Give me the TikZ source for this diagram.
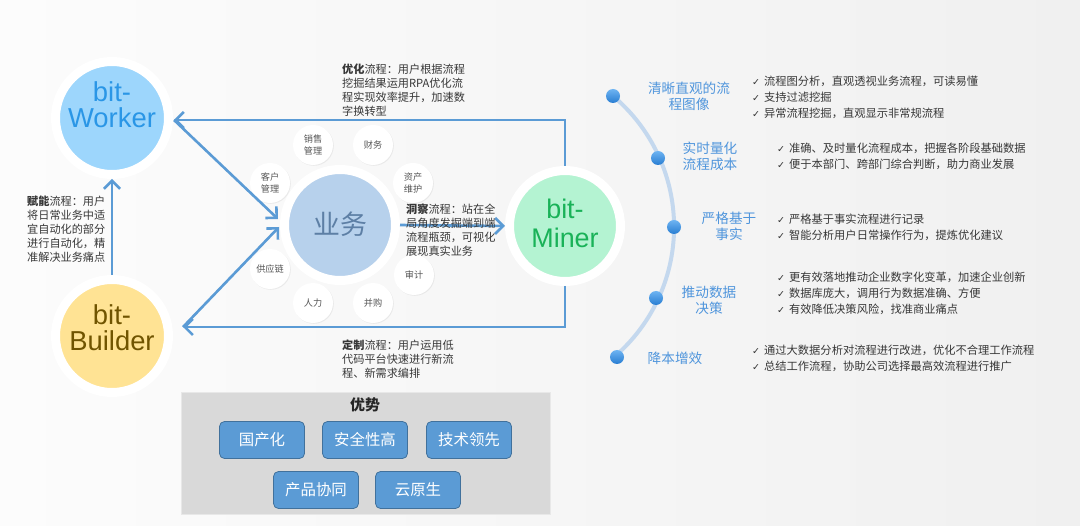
\documentclass[tikz,border=0pt]{standalone}
\usepackage{fontspec}
\setmainfont{Noto Sans CJK SC}
\newfontfamily\latinf{Liberation Sans}
\newfontfamily\dejavu{DejaVu Sans}
\usetikzlibrary{arrows.meta,shadows}
\definecolor{bgA}{RGB}{252,252,252}
\definecolor{bgB}{RGB}{240,240,240}
\definecolor{arrowblue}{RGB}{91,155,213}
\definecolor{workerfill}{RGB}{157,214,252}
\definecolor{workertext}{RGB}{42,150,230}
\definecolor{builderfill}{RGB}{255,227,148}
\definecolor{buildertext}{RGB}{112,84,0}
\definecolor{ywfill}{RGB}{183,209,236}
\definecolor{ywtext}{RGB}{93,127,165}
\definecolor{minerfill}{RGB}{180,243,210}
\definecolor{minertext}{RGB}{25,178,88}
\definecolor{catblue}{RGB}{79,149,220}
\definecolor{txtdark}{RGB}{55,55,55}
\definecolor{arccol}{RGB}{196,216,238}
\definecolor{dotA}{RGB}{110,180,242}
\definecolor{dotB}{RGB}{40,125,210}
\definecolor{advfill}{RGB}{217,217,217}
\definecolor{advline}{RGB}{232,232,232}
\definecolor{btnfill}{RGB}{91,155,213}
\definecolor{btnline}{RGB}{65,113,156}
\begin{document}
\begin{tikzpicture}[x=1bp,y=-1bp,
  bigcirc/.style={circle, draw=white, line width=9bp, inner sep=0pt},
  biglbl/.style={align=center, inner sep=0pt, font=\latinf\fontsize{27.5}{26.5}\selectfont},
  arr/.style={draw=arrowblue, line width=2.6bp, -{Straight Barb[length=8bp,width=16bp]}},
  smallc/.style={circle, fill=white, minimum size=40bp, inner sep=0pt,
     drop shadow={opacity=0.12, shadow xshift=0.8bp, shadow yshift=-0.8bp},
     align=center, text=txtdark!85, font=\fontsize{9.2}{11.8}\selectfont},
  desc/.style={anchor=north west, align=left, inner sep=0pt, text=txtdark,
     font=\fontsize{11.2}{14}\selectfont},
  cat/.style={align=center, inner sep=0pt, text=catblue, font=\fontsize{13.7}{15.8}\selectfont},
  bul/.style={anchor=north west, align=left, inner sep=0pt, text=txtdark,
     font=\fontsize{11.3}{16}\selectfont},
  dot/.style={circle, minimum size=14bp, inner sep=0pt, top color=dotA, bottom color=dotB},
  btn/.style={rectangle, rounded corners=5bp, fill=btnfill, draw=btnline, line width=0.8bp,
     minimum width=85bp, minimum height=37bp, text=white, font=\fontsize{15.5}{18}\selectfont}]
\newcommand{\ck}{\makebox[12bp][l]{\dejavu\fontsize{9.5}{10}\selectfont ✓}}
% background
\path[use as bounding box, left color=bgA, right color=bgB] (0,0) rectangle (1080,526);

% main circles
\node[bigcirc, fill=workerfill, minimum size=113bp] (worker) at (112,118) {};
\node[bigcirc, fill=builderfill, minimum size=113bp] (builder) at (112,336) {};
\node[bigcirc, fill=ywfill, minimum size=111bp] (yw) at (340,225) {};
\node[bigcirc, fill=minerfill, minimum size=111bp] (miner) at (565,226) {};

\node[biglbl, text=workertext] (workerlbl) at (112,105) {bit-\\Worker};
\node[biglbl, text=buildertext] (builderlbl) at (112,328) {bit-\\Builder};
\node[biglbl, text=minertext, font=\latinf\fontsize{27}{29}\selectfont] (minerlbl) at (565,223) {bit-\\Miner};
\node[text=ywtext, font=\fontsize{27}{30}\selectfont, inner sep=0pt] (ywlbl) at (340,224) {业务};

% small circles
\node[smallc] (sc1) at (313,145) {销售\\管理};
\node[smallc] (sc2) at (373,145) {财务};
\node[smallc] (sc3) at (413,183) {资产\\维护};
\node[smallc] (sc4) at (414,275) {审计};
\node[smallc] (sc5) at (373,303) {并购};
\node[smallc] (sc6) at (313,303) {人力};
\node[smallc] (sc7) at (270,269) {供应链};
\node[smallc] (sc8) at (270,183) {客户\\管理};

% connectors
\coordinate (tl) at (174,120);
\coordinate (bl) at (183,327);
\coordinate (ywin1) at (278,219);
\coordinate (ywin2) at (279,227);
\draw[arr] (miner.north) -- (miner.north |- tl) -- (tl);
\draw[arr] (tl) -- (ywin1);
\draw[arr] (miner.south) -- (miner.south |- bl) -- (bl);
\draw[arr] (bl) -- (ywin2);
\draw[arr] (builder.north) -- (worker.south);
\draw[arr] (yw.east) -- (miner.west);

% description texts
\node[desc] (youhua) at (342,64) {{\bfseries 优化}流程：用户根据流程\\挖掘结果运用RPA优化流\\程实现效率提升，加速数\\字换转型};
\node[desc] (dingzhi) at (342,340) {{\bfseries 定制}流程：用户运用低\\代码平台快速进行新流\\程、新需求编排};
\node[desc] (funeng) at (27,196) {{\bfseries 赋能}流程：用户\\将日常业务中适\\宜自动化的部分\\进行自动化，精\\准解决业务痛点};
\node[desc] (dongcha) at (406,204) {{\bfseries 洞察}流程：站在全\\局角度发掘端到端\\流程瓶颈，可视化\\展现真实业务};

% right arc and dots
\draw[draw=arccol, line width=4bp] (613,96) arc[start angle=-50, end angle=49.5, radius=171];
\node[dot] (d1) at (613,96) {};
\node[dot] (d2) at (658,158) {};
\node[dot] (d3) at (674,227) {};
\node[dot] (d4) at (656,298) {};
\node[dot] (d5) at (617,357) {};

\node[cat] (c1) at (689,96) {清晰直观的流\\程图像};
\node[cat] (c2) at (710,156) {实时量化\\流程成本};
\node[cat] (c3) at (729,226) {严格基于\\事实};
\node[cat] (c4) at (709,300) {推动数据\\决策};
\node[cat] (c5) at (675,358) {降本增效};

\node[bul] (b1) at (752,75.5) {\ck 流程图分析，直观透视业务流程，可读易懂\\\ck 支持过滤挖掘\\\ck 异常流程挖掘，直观显示非常规流程};
\node[bul] (b2) at (777,142.5) {\ck 准确、及时量化流程成本，把握各阶段基础数据\\\ck 便于本部门、跨部门综合判断，助力商业发展};
\node[bul] (b3) at (777,213.5) {\ck 严格基于事实流程进行记录\\\ck 智能分析用户日常操作行为，提炼优化建议};
\node[bul] (b4) at (777,271.5) {\ck 更有效落地推动企业数字化变革，加速企业创新\\\ck 数据库庞大，调用行为数据准确、方便\\\ck 有效降低决策风险，找准商业痛点};
\node[bul] (b5) at (752,344.5) {\ck 通过大数据分析对流程进行改进，优化不合理工作流程\\\ck 总结工作流程，协助公司选择最高效流程进行推广};

% advantages
\draw[fill=advfill, draw=advline, line width=0.8bp] (181,392) rectangle (550,514);
\node[font=\bfseries\fontsize{15}{18}\selectfont, text=black!85] (advt) at (365,405) {优势};
\node[btn] (a1) at (262,440) {国产化};
\node[btn] (a2) at (365,440) {安全性高};
\node[btn] (a3) at (469,440) {技术领先};
\node[btn] (a4) at (316,490) {产品协同};
\node[btn] (a5) at (418,490) {云原生};
\end{tikzpicture}
\end{document}
